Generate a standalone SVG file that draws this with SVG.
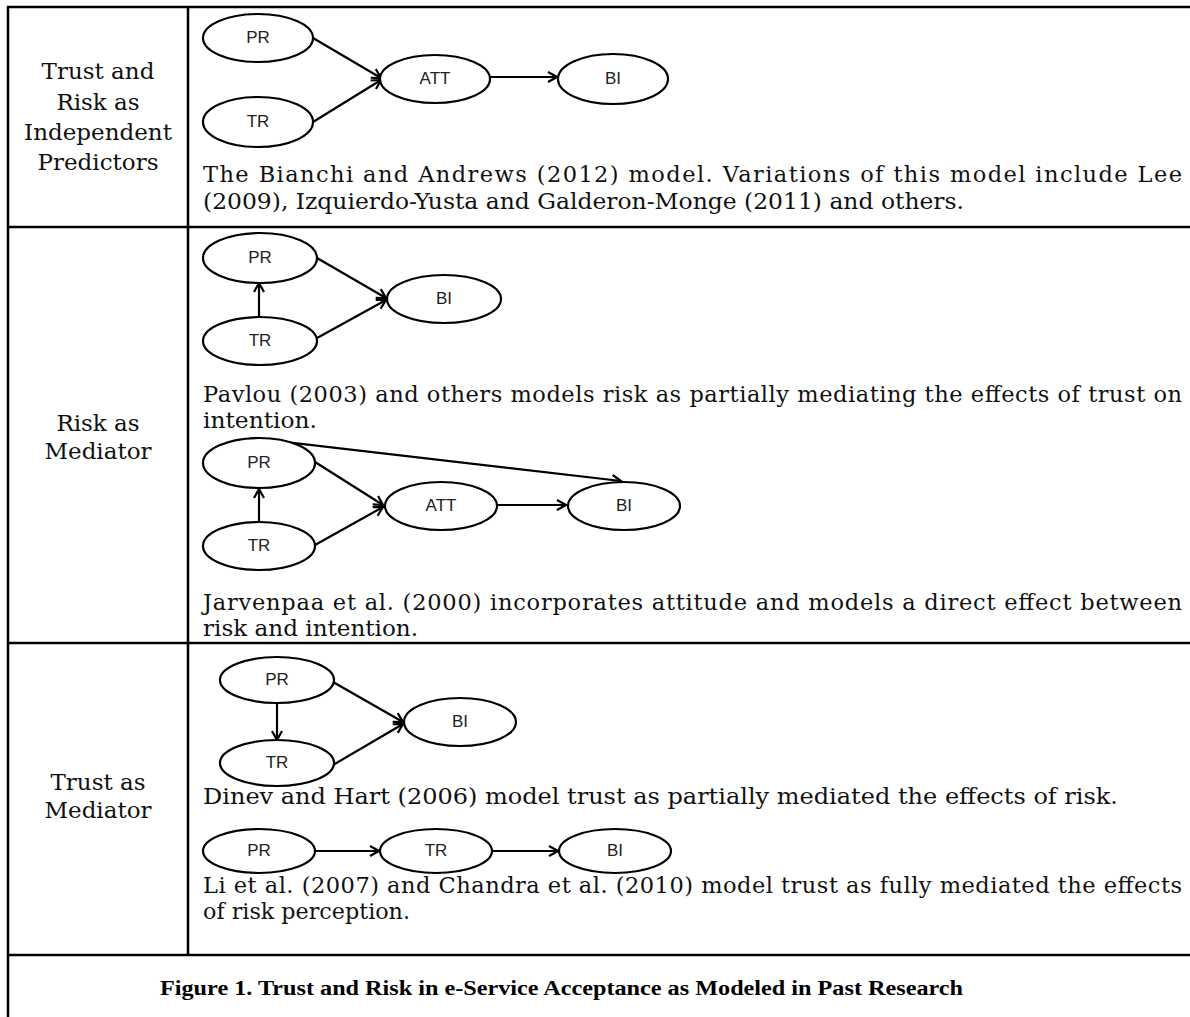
<svg xmlns="http://www.w3.org/2000/svg" width="1190" height="1017" viewBox="0 0 1190 1017">
<style>
.grid{stroke:#000;stroke-width:2.5;fill:none}
.ell{fill:#fff;stroke:#000;stroke-width:2.2}
.lbl{font-family:"Liberation Sans",Arial,sans-serif;font-size:17px;fill:#222;text-anchor:middle;dominant-baseline:central}
.body{font-family:"DejaVu Serif","Liberation Serif",serif;font-size:22.5px;fill:#111}
.hdr{font-family:"DejaVu Serif","Liberation Serif",serif;font-size:23px;fill:#111;text-anchor:middle}
.cap{font-family:"Liberation Serif","Times New Roman",serif;font-size:20px;font-weight:bold;fill:#000}
.con{stroke:#000;stroke-width:2.2;fill:none;marker-end:url(#arr)}
</style>
<defs>
<marker id="arr" markerUnits="userSpaceOnUse" markerWidth="14" markerHeight="14" viewBox="0 0 14 14" refX="12" refY="7" orient="auto">
<path d="M3,2 L12,7 L3,12" fill="none" stroke="#000" stroke-width="2.2"/>
</marker>
</defs>
<rect width="1190" height="1017" fill="#fff"/>
<g id="table">
<line class="grid" x1="8" y1="6" x2="8" y2="1017"/>
<line class="grid" x1="7" y1="7" x2="1190" y2="7"/>
<line class="grid" x1="7" y1="227" x2="1190" y2="227"/>
<line class="grid" x1="7" y1="643" x2="1190" y2="643"/>
<line class="grid" x1="7" y1="955" x2="1190" y2="955"/>
<line class="grid" x1="188" y1="7" x2="188" y2="955"/>
</g>
<g id="row-labels">
<text class="hdr" x="98" y="79">Trust and</text>
<text class="hdr" x="98" y="110">Risk as</text>
<text class="hdr" x="98" y="140">Independent</text>
<text class="hdr" x="98" y="170">Predictors</text>
<text class="hdr" x="98" y="431">Risk as</text>
<text class="hdr" x="98" y="459">Mediator</text>
<text class="hdr" x="98" y="790">Trust as</text>
<text class="hdr" x="98" y="818">Mediator</text>
</g>
<g id="descriptions">
<text class="body" x="203" y="182" textLength="979" lengthAdjust="spacing">The Bianchi and Andrews (2012) model. Variations of this model include Lee</text>
<text class="body" x="203" y="209" textLength="761" lengthAdjust="spacingAndGlyphs">(2009), Izquierdo-Yusta and Galderon-Monge (2011) and others.</text>
<text class="body" x="203" y="402" textLength="979" lengthAdjust="spacing">Pavlou (2003) and others models risk as partially mediating the effects of trust on</text>
<text class="body" x="203" y="428" textLength="114" lengthAdjust="spacingAndGlyphs">intention.</text>
<text class="body" x="203" y="610" textLength="979" lengthAdjust="spacing">Jarvenpaa et al. (2000) incorporates attitude and models a direct effect between</text>
<text class="body" x="203" y="636" textLength="215" lengthAdjust="spacingAndGlyphs">risk and intention.</text>
<text class="body" x="203" y="804" textLength="915" lengthAdjust="spacingAndGlyphs">Dinev and Hart (2006) model trust as partially mediated the effects of risk.</text>
<text class="body" x="203" y="893" textLength="979" lengthAdjust="spacing">Li et al. (2007) and Chandra et al. (2010) model trust as fully mediated the effects</text>
<text class="body" x="203" y="919" textLength="207" lengthAdjust="spacingAndGlyphs">of risk perception.</text>
</g>
<g id="caption">
<text class="cap" x="160" y="995" textLength="803" lengthAdjust="spacingAndGlyphs">Figure 1.  Trust and Risk in e-Service Acceptance as Modeled in Past Research</text>
</g>
<g id="connectors">
<line class="con" x1="313" y1="38" x2="381" y2="78"/>
<line class="con" x1="313" y1="122" x2="381" y2="80"/>
<line class="con" x1="490" y1="77" x2="557" y2="77"/>
<line class="con" x1="259" y1="317" x2="259" y2="283"/>
<line class="con" x1="317" y1="258" x2="386" y2="298"/>
<line class="con" x1="317" y1="338" x2="386" y2="300"/>
<line class="con" x1="259" y1="522" x2="259" y2="489"/>
<line class="con" x1="315" y1="462" x2="383" y2="505"/>
<line class="con" x1="315" y1="545" x2="383" y2="507"/>
<line class="con" x1="497" y1="505" x2="566" y2="505"/>
<line class="con" x1="250" y1="438" x2="621" y2="481"/>
<line class="con" x1="277" y1="703" x2="277" y2="740"/>
<line class="con" x1="333" y1="682" x2="403" y2="722"/>
<line class="con" x1="333" y1="765" x2="403" y2="724"/>
<line class="con" x1="315" y1="851" x2="379" y2="851"/>
<line class="con" x1="492" y1="851" x2="558" y2="851"/>
</g>
<g id="n1-PR"><ellipse class="ell" cx="258" cy="38" rx="55" ry="24"/><text class="lbl" x="258" y="37">PR</text></g>
<g id="n1-TR"><ellipse class="ell" cx="258" cy="122" rx="55" ry="25"/><text class="lbl" x="258" y="121">TR</text></g>
<g id="n1-ATT"><ellipse class="ell" cx="435" cy="79" rx="55" ry="24"/><text class="lbl" x="435" y="78">ATT</text></g>
<g id="n1-BI"><ellipse class="ell" cx="613" cy="79" rx="55" ry="25"/><text class="lbl" x="613" y="78">BI</text></g>
<g id="n2-PR"><ellipse class="ell" cx="260" cy="258" rx="57" ry="25"/><text class="lbl" x="260" y="257">PR</text></g>
<g id="n2-TR"><ellipse class="ell" cx="260" cy="341" rx="57" ry="24"/><text class="lbl" x="260" y="340">TR</text></g>
<g id="n2-BI"><ellipse class="ell" cx="444" cy="299" rx="57" ry="24"/><text class="lbl" x="444" y="298">BI</text></g>
<g id="n3-PR"><ellipse class="ell" cx="259" cy="463" rx="56" ry="25"/><text class="lbl" x="259" y="462">PR</text></g>
<g id="n3-TR"><ellipse class="ell" cx="259" cy="546" rx="56" ry="24"/><text class="lbl" x="259" y="545">TR</text></g>
<g id="n3-ATT"><ellipse class="ell" cx="441" cy="506" rx="56" ry="24"/><text class="lbl" x="441" y="505">ATT</text></g>
<g id="n3-BI"><ellipse class="ell" cx="624" cy="506" rx="56" ry="24"/><text class="lbl" x="624" y="505">BI</text></g>
<g id="n4-PR"><ellipse class="ell" cx="277" cy="680" rx="57" ry="23"/><text class="lbl" x="277" y="679">PR</text></g>
<g id="n4-TR"><ellipse class="ell" cx="277" cy="763" rx="57" ry="23"/><text class="lbl" x="277" y="762">TR</text></g>
<g id="n4-BI"><ellipse class="ell" cx="460" cy="722" rx="56" ry="24"/><text class="lbl" x="460" y="721">BI</text></g>
<g id="n5-PR"><ellipse class="ell" cx="259" cy="851" rx="56" ry="22"/><text class="lbl" x="259" y="850">PR</text></g>
<g id="n5-TR"><ellipse class="ell" cx="436" cy="851" rx="56" ry="22"/><text class="lbl" x="436" y="850">TR</text></g>
<g id="n5-BI"><ellipse class="ell" cx="615" cy="851" rx="56" ry="22"/><text class="lbl" x="615" y="850">BI</text></g>
</svg>
